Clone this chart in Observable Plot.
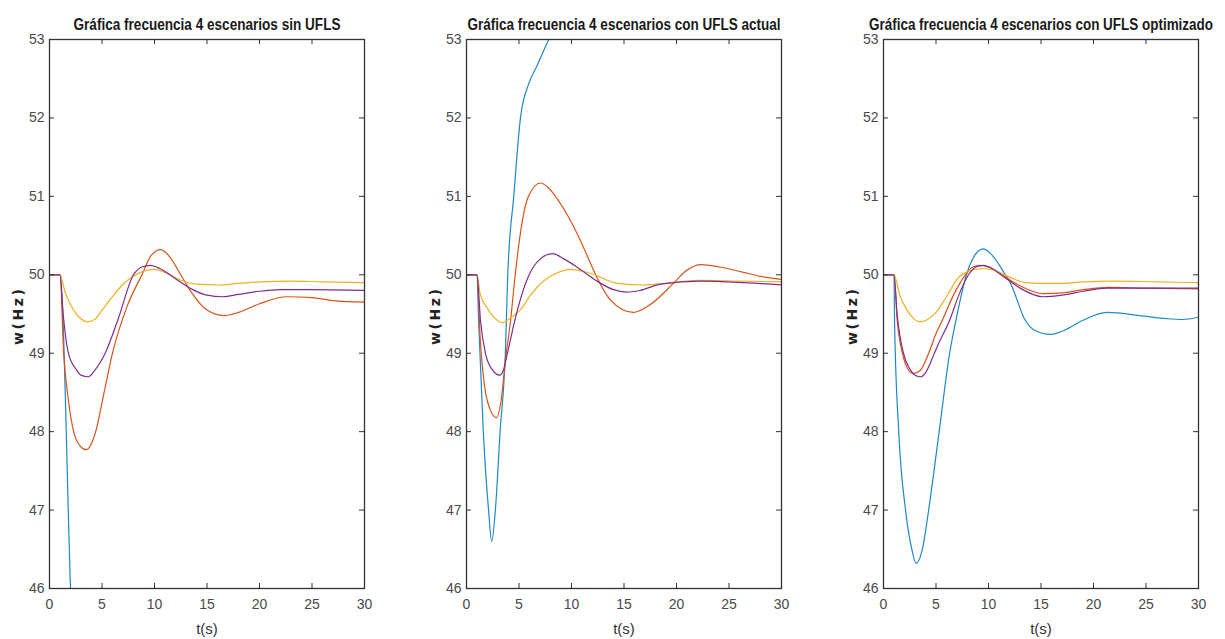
<!DOCTYPE html>
<html><head><meta charset="utf-8">
<script src="https://cdn.jsdelivr.net/npm/d3@7"></script>
<script src="https://cdn.jsdelivr.net/npm/@observablehq/plot@0.6"></script>
<style>
body{margin:0;background:#fff;width:1225px;height:639px;overflow:hidden;position:relative}
.panel{position:absolute;top:0}
</style></head><body><div id="root"></div>
<script>
// ---- labels ----
const titles = [
  "Gráfica frecuencia 4 escenarios sin UFLS",
  "Gráfica frecuencia 4 escenarios con UFLS actual",
  "Gráfica frecuencia 4 escenarios con UFLS optimizado"
];
const titleWidths = [267, 313, 344];
const xLabel = "t(s)";
const yLabel = "w(Hz)";
const xTicks = [0, 5, 10, 15, 20, 25, 30];
const yTicks = [46, 47, 48, 49, 50, 51, 52, 53];
const colors = {azul: "#1f88c8", naranja: "#d95319", amarillo: "#edb120", morado: "#7e2f8e"};

// ---- panel 1: sin UFLS  [t, w] ----
const sin_azul = [[0,50],[1,50],[2,46],[2.5,44]];
const sin_naranja = [[0,50],[1,50],[1.35,49],[1.8,48.4],[2.3,48.0],[2.9,47.82],[3.5,47.77],[4.0,47.85],[4.4,48.0],[5.2,48.5],[6.0,49.0],[7.4,49.6],[8.8,50.0],[9.7,50.25],[10.6,50.32],[11.5,50.22],[12.5,50.0],[13.5,49.78],[15,49.55],[16.6,49.48],[18,49.52],[20,49.63],[22.6,49.72],[25,49.71],[27,49.67],[30,49.65]];
const sin_amarillo = [[0,50],[1,50],[1.5,49.77],[2,49.62],[2.5,49.51],[3,49.44],[3.6,49.4],[4.3,49.43],[5,49.55],[6,49.72],[7,49.88],[8,49.98],[9,50.05],[10,50.07],[11,50.03],[12.5,49.93],[14,49.88],[16,49.87],[18,49.89],[20,49.91],[23,49.92],[26,49.91],[30,49.9]];
const sin_morado = [[0,50],[1,50],[1.3,49.5],[1.8,49.0],[2.5,48.8],[3.0,48.72],[3.7,48.7],[4.3,48.78],[5.3,49.0],[6.5,49.42],[8.0,50.0],[8.8,50.1],[9.6,50.12],[10.5,50.08],[12,49.95],[13.5,49.82],[15,49.74],[16.5,49.72],[18,49.75],[20,49.79],[22,49.81],[25,49.81],[30,49.8]];

// ---- panel 2: con UFLS actual ----
const act_azul = [[0,50],[1,50],[1.15,49.42],[1.6,48],[2.1,47],[2.4,46.6],[2.75,47],[3.2,48],[3.7,49],[3.93,50],[4.5,51],[5.14,52],[5.94,52.44],[6.73,52.67],[7.84,53],[8.6,53.2]];
const act_naranja = [[0,50],[1,50],[1.3,49.2],[1.7,48.6],[2.2,48.3],[2.85,48.18],[3.3,48.4],[3.7,48.9],[4.2,49.42],[4.6,49.95],[5.1,50.5],[5.9,51.0],[7.05,51.17],[7.8,51.11],[8.63,50.97],[9.7,50.74],[10.7,50.48],[11.5,50.24],[12.3,50.0],[13.7,49.68],[15.9,49.52],[17.5,49.62],[19.7,49.89],[21,50.06],[22.3,50.13],[24.5,50.09],[26.4,50.03],[28,49.98],[30,49.94]];
const act_amarillo = [[0,50],[1,50],[1.3,49.76],[2.0,49.57],[2.6,49.46],[3.4,49.39],[4.2,49.45],[5.1,49.55],[6.1,49.74],[7,49.88],[8,49.98],[9.9,50.07],[11.8,50.02],[14.4,49.89],[16.9,49.87],[19.5,49.9],[22.3,49.93],[26,49.92],[30,49.91]];
const act_morado = [[0,50],[1,50],[1.33,49.42],[1.8,49.0],[2.4,48.8],[3.17,48.72],[3.5,48.78],[3.9,49.0],[4.6,49.42],[5.9,49.98],[7,50.2],[8.2,50.27],[9.3,50.2],[10.5,50.1],[12.3,49.93],[14,49.81],[15.2,49.78],[16.5,49.8],[18.5,49.88],[22.3,49.92],[26.4,49.9],[30,49.87]];

// ---- panel 3: con UFLS optimizado ----
const opt_azul = [[0,50],[1,50],[1.05,49.42],[1.45,48],[2.1,47],[2.7,46.5],[3.1,46.32],[3.7,46.5],[4.3,47],[5.3,48],[6.3,49],[6.9,49.42],[7.9,50],[8.7,50.25],[9.5,50.33],[10.2,50.27],[11.6,50],[12.1,49.89],[13.5,49.42],[14.3,49.3],[15.9,49.24],[17.2,49.29],[19,49.42],[21.3,49.52],[24.4,49.48],[27,49.44],[28.5,49.43],[30,49.46]];
const opt_naranja = [[0,50],[1,50],[1.3,49.42],[1.8,49.0],[2.4,48.78],[2.8,48.74],[3.5,48.78],[4.3,49.0],[5.0,49.25],[5.6,49.42],[6.7,49.75],[7.8,50.0],[8.5,50.1],[9.2,50.12],[10.2,50.09],[11.5,49.98],[13,49.86],[15.2,49.76],[17,49.77],[19,49.81],[21.3,49.84],[25,49.83],[30,49.82]];
const opt_amarillo = [[0,50],[1,50],[1.6,49.72],[2.25,49.55],[2.8,49.45],[3.5,49.4],[4.2,49.43],[5,49.52],[6,49.72],[7.1,49.96],[8,50.04],[9.5,50.08],[10.5,50.06],[12,49.97],[13.5,49.9],[15,49.89],[17,49.89],[19,49.91],[22,49.92],[26,49.91],[30,49.9]];
const opt_morado = [[0,50],[1,50],[1.3,49.5],[1.9,49.0],[2.5,48.8],[3.0,48.72],[3.5,48.7],[4.0,48.75],[4.6,48.92],[5.1,49.08],[6.3,49.42],[7.2,49.75],[8.1,50.0],[8.8,50.1],[9.5,50.12],[10.2,50.09],[11.5,49.97],[13,49.83],[15.2,49.72],[17,49.74],[19,49.79],[21.3,49.83],[25,49.83],[30,49.83]];

const panels = [
  {title: titles[0], tw: titleWidths[0], left: 0,   series: {azul: sin_azul, naranja: sin_naranja, amarillo: sin_amarillo, morado: sin_morado}},
  {title: titles[1], tw: titleWidths[1], left: 417, series: {azul: act_azul, naranja: act_naranja, amarillo: act_amarillo, morado: act_morado}},
  {title: titles[2], tw: titleWidths[2], left: 834, series: {azul: opt_azul, naranja: opt_naranja, amarillo: opt_amarillo, morado: opt_morado}}
];

const FONT = "'Liberation Sans', Arial, sans-serif";
const H = 639, MT = 39, MB = 51, ML = 49, FRAME_W = 315;
const frameH = H - MT - MB;
const innerX = xTicks.slice(1, -1), innerY = yTicks.slice(1, -1);

const root = document.getElementById("root");
for (const p of panels) {
  const width = Math.min(ML + FRAME_W + 45, 1225 - p.left);
  const MR = width - ML - FRAME_W;
  const lineMarks = ["azul", "naranja", "amarillo", "morado"].map(k =>
    Plot.line(p.series[k], {x: d => d[0], y: d => d[1], stroke: colors[k], strokeWidth: 1.2, curve: "monotone-x", clip: true})
  );
  const chart = Plot.plot({
    width, height: H,
    marginTop: MT, marginBottom: MB, marginLeft: ML, marginRight: MR,
    x: {domain: [0, 30]},
    y: {domain: [46, 53]},
    style: {fontFamily: FONT, fontSize: "14px", color: "#4a4a4a", background: "white", overflow: "visible"},
    marks: [
      Plot.axisX({ticks: xTicks, tickSize: 0, tickPadding: 11, label: null, fill: "#4a4a4a", tickFormat: d => String(d)}),
      Plot.axisY({ticks: yTicks, tickSize: 0, tickPadding: 5, label: null, fill: "#4a4a4a", tickFormat: d => String(d)}),
      ...lineMarks,
      Plot.ruleX(innerX, {x: d => d, insetTop: frameH - 5, stroke: "#333"}),
      Plot.ruleX(innerX, {x: d => d, insetBottom: frameH - 5, stroke: "#333"}),
      Plot.ruleY(innerY, {y: d => d, insetRight: FRAME_W - 5, stroke: "#333"}),
      Plot.ruleY(innerY, {y: d => d, insetLeft: FRAME_W - 5, stroke: "#333"}),
      Plot.frame({stroke: "#333", strokeWidth: 1.3}),
      Plot.text([p.title], {text: d => d, frameAnchor: "top", dy: -10, lineAnchor: "bottom", textAnchor: "middle", fontWeight: "bold", fontSize: 16, fill: "#1a1a1a"}),
      Plot.text([xLabel], {text: d => d, frameAnchor: "bottom", lineAnchor: "middle", textAnchor: "middle", dy: 41, fontSize: 15, fill: "#333"}),
      Plot.text([yLabel], {text: d => d, frameAnchor: "left", lineAnchor: "middle", textAnchor: "middle", dx: -31, dy: 3, rotate: -90, fontSize: 14, fontWeight: "bold", fill: "#222"})
    ]
  });
  chart.classList.add("panel");
  chart.style.left = p.left + "px";
  chart.style.position = "absolute";
  d3.select(chart).selectAll("text").filter(function() { return this.textContent === p.title; })
    .attr("textLength", p.tw).attr("lengthAdjust", "spacingAndGlyphs");
  d3.select(chart).selectAll("text").filter(function() { return this.textContent === yLabel; })
    .attr("textLength", 56).attr("lengthAdjust", "spacing").style("font-family", "'DejaVu Sans', sans-serif");
  root.appendChild(chart);
}
</script></body></html>
